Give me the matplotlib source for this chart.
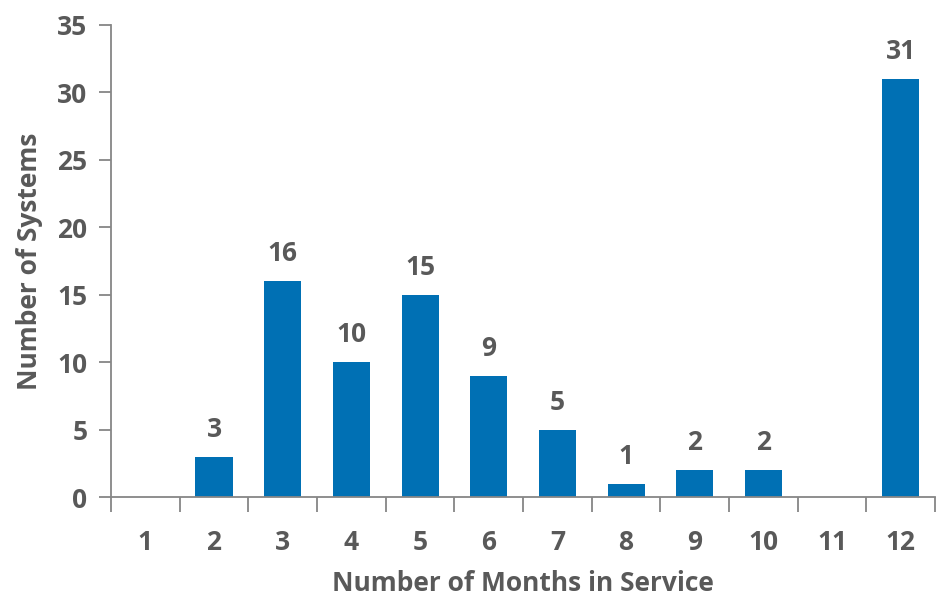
import numpy as np
import matplotlib.pyplot as plt

# data
months = ["1", "2", "3", "4", "5", "6", "7", "8", "9", "10", "11", "12"]
systems = [0, 3, 16, 10, 15, 9, 5, 1, 2, 2, 0, 31]

BAR = "#0070B4"
GREY = "#595959"
AXIS = "#868686"
FS = 19

plt.rcParams["font.family"] = ["Open Sans", "DejaVu Sans"]
plt.rcParams["font.weight"] = "bold"

fig = plt.figure(figsize=(9.36, 6.01), dpi=100)
ax = fig.add_axes([0.1186, 0.173, 0.8805, 0.786])

x = np.arange(1, len(months) + 1)
bars = ax.bar(x, systems, width=0.54, color=BAR, zorder=2)

# value labels above the non-empty bars
for xi, v in zip(x, systems):
    if v > 0:
        ax.annotate(str(v), (xi, v), xytext=(0, 10), textcoords="offset points",
                    ha="center", va="bottom", fontsize=FS, color=GREY,
                    fontweight="bold")

ax.set_xlim(0.5, len(months) + 0.5)
ax.set_ylim(0, 35)
ax.set_yticks(range(0, 36, 5))

# category boundaries carry the tick marks, labels sit in the middle
ax.set_xticks(np.arange(0.5, len(months) + 1, 1))
ax.set_xticklabels([])
ax.set_xticks(x, minor=True)
ax.set_xticklabels(months, minor=True)
ax.tick_params(axis="x", which="major", direction="out", length=11, width=1.3,
               color=AXIS)
ax.tick_params(axis="x", which="minor", length=0, pad=23, labelsize=FS,
               labelcolor=GREY)
ax.tick_params(axis="y", direction="out", length=9, width=1.3, color=AXIS,
               pad=8, labelsize=FS, labelcolor=GREY)

for s in ["top", "right"]:
    ax.spines[s].set_visible(False)
for s in ["left", "bottom"]:
    ax.spines[s].set_color(AXIS)
    ax.spines[s].set_linewidth(1.3)

ax.set_xlabel("Number of Months in Service", fontsize=FS, color=GREY,
              fontweight="bold", labelpad=10)
ax.set_ylabel("Number of Systems", fontsize=FS, color=GREY,
              fontweight="bold", labelpad=10)

fig.savefig("out.png", dpi=100)
